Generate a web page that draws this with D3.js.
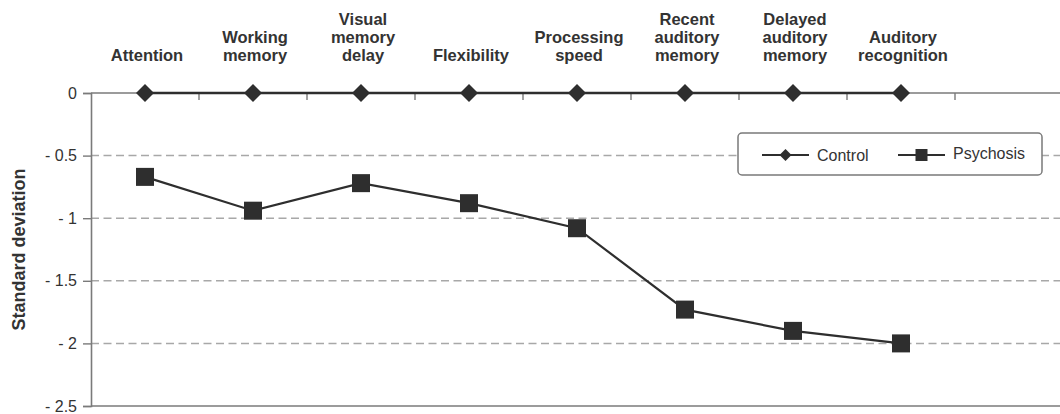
<!DOCTYPE html>
<html>
<head>
<meta charset="utf-8">
<script src="https://d3js.org/d3.v7.min.js"></script>
<style>
  body { margin: 0; background: #fff; }
  svg { display: block; font-family: "Liberation Sans", Arial, sans-serif; }
</style>
</head>
<body>
<svg id="chart" width="1060" height="414"></svg>
<script>
// data
var categories = ["Attention", "Working memory", "Visual memory delay", "Flexibility",
  "Processing speed", "Recent auditory memory", "Delayed auditory memory", "Auditory recognition"]
var categoryLines = [["Attention"], ["Working", "memory"], ["Visual", "memory", "delay"], ["Flexibility"],
  ["Processing", "speed"], ["Recent", "auditory", "memory"], ["Delayed", "auditory", "memory"], ["Auditory", "recognition"]]
var control = [0, 0, 0, 0, 0, 0, 0, 0]
var psychosis = [-0.67, -0.94, -0.72, -0.88, -1.08, -1.73, -1.90, -2.00]
var yTicks = [0, -0.5, -1, -1.5, -2, -2.5]
var seriesNames = ["Control", "Psychosis"]

var W = 1060, H = 414
var plotLeft = 91, plotTop = 93, plotBottom = 406
var ink = "#2e2e2e", axisGrey = "#7a7a7a", gridGrey = "#a8a8a8"

var svg = d3.select("#chart")

var x = d3.scaleBand().domain(categories).range([plotLeft, plotLeft + 8 * 108])
var y = d3.scaleLinear().domain([0, -2.5]).range([plotTop, plotBottom])

// dashed gridlines
svg.append("g")
  .selectAll("line")
  .data(yTicks.filter(function(d){ return d !== 0 && d !== -2.5 }))
  .enter()
  .append("line")
  .attr("x1", plotLeft).attr("x2", W)
  .attr("y1", function(d){ return y(d) }).attr("y2", function(d){ return y(d) })
  .attr("stroke", gridGrey).attr("stroke-width", 1.5)
  .attr("stroke-dasharray", "8,4.5")

// bottom frame line
svg.append("line")
  .attr("x1", plotLeft).attr("x2", W)
  .attr("y1", y(-2.5)).attr("y2", y(-2.5))
  .attr("stroke", axisGrey).attr("stroke-width", 1.6)

// y axis
var yAxis = svg.append("g")
  .attr("transform", "translate(" + plotLeft + ",0)")
  .call(d3.axisLeft(y)
    .tickValues(yTicks)
    .tickSize(8)
    .tickPadding(6)
    .tickFormat(function(d){ return d === 0 ? "0" : "- " + Math.abs(d) }))
yAxis.select(".domain").attr("stroke", axisGrey).attr("stroke-width", 1.6)
yAxis.selectAll(".tick line").attr("stroke", axisGrey).attr("stroke-width", 1.4)
yAxis.selectAll(".tick text")
  .attr("fill", "#333")
  .style("font-size", "16px")
  .style("font-family", "\"Liberation Sans\", Arial, sans-serif")

// x axis along zero
svg.append("line")
  .attr("x1", plotLeft).attr("x2", W)
  .attr("y1", y(0)).attr("y2", y(0))
  .attr("stroke", axisGrey).attr("stroke-width", 1.6)
svg.append("g")
  .selectAll("line")
  .data(categories)
  .enter()
  .append("line")
  .attr("x1", function(d){ return x(d) + x.bandwidth() })
  .attr("x2", function(d){ return x(d) + x.bandwidth() })
  .attr("y1", y(0)).attr("y2", y(0) + 7)
  .attr("stroke", axisGrey).attr("stroke-width", 1.4)

// category labels on top
var labels = svg.append("g")
  .selectAll("text")
  .data(categories)
  .enter()
  .append("text")
  .attr("text-anchor", "middle")
  .attr("fill", "#333")
  .style("font-size", "16.5px")
  .style("font-weight", "bold")
labels.each(function(d, i){
  var lines = categoryLines[i], n = lines.length
  d3.select(this).selectAll("tspan")
    .data(lines)
    .enter()
    .append("tspan")
    .attr("x", x(d) + x.bandwidth() / 2 + 2)
    .attr("y", function(t, j){ return 61 - (n - 1 - j) * 18 })
    .text(function(t){ return t })
})

// y title
svg.append("text")
  .attr("transform", "translate(25," + ((plotTop + plotBottom) / 2) + ") rotate(-90)")
  .attr("text-anchor", "middle")
  .attr("fill", "#333")
  .style("font-size", "18px")
  .style("font-weight", "bold")
  .text("Standard deviation")

var cx = function(d, i){ return x(categories[i]) + x.bandwidth() / 2 }
var line = d3.line().x(cx).y(function(d){ return y(d) })

// control series
svg.append("path")
  .datum(control)
  .attr("d", line)
  .attr("fill", "none").attr("stroke", ink).attr("stroke-width", 2.6)
svg.append("g")
  .selectAll("path")
  .data(control)
  .enter()
  .append("path")
  .attr("d", "M0,-9L9,0L0,9L-9,0Z")
  .attr("transform", function(d, i){ return "translate(" + cx(d, i) + "," + y(d) + ")" })
  .attr("fill", ink)

// psychosis series
svg.append("path")
  .datum(psychosis)
  .attr("d", line)
  .attr("fill", "none").attr("stroke", ink).attr("stroke-width", 2.2)
svg.append("g")
  .selectAll("rect")
  .data(psychosis)
  .enter()
  .append("rect")
  .attr("x", function(d, i){ return cx(d, i) - 9 })
  .attr("y", function(d){ return y(d) - 9 })
  .attr("width", 18).attr("height", 18)
  .attr("fill", ink)

// legend
var legend = svg.append("g")
legend.append("rect")
  .attr("x", 738).attr("y", 133).attr("width", 304).attr("height", 42)
  .attr("rx", 4)
  .attr("fill", "#fff").attr("stroke", axisGrey).attr("stroke-width", 1.5)
var items = legend.selectAll("g.item")
  .data(seriesNames)
  .enter()
  .append("g")
  .attr("class", "item")
  .attr("transform", function(d, i){ return "translate(" + (762 + i * 136) + ",155)" })
items.append("line")
  .attr("x1", 0).attr("x2", 47).attr("y1", 0).attr("y2", 0)
  .attr("stroke", ink).attr("stroke-width", 2.2)
items.each(function(d, i){
  var g = d3.select(this)
  if (i === 0) {
    g.append("path").attr("d", "M23.5,-6L29.5,0L23.5,6L17.5,0Z").attr("fill", ink)
  } else {
    g.append("rect").attr("x", 17.5).attr("y", -6).attr("width", 12).attr("height", 12).attr("fill", ink)
  }
})
items.append("text")
  .attr("x", 55)
  .attr("y", function(d, i){ return i === 0 ? 6 : 4 })
  .attr("fill", "#333")
  .style("font-size", "16px")
  .text(function(d){ return d })
</script>
</body>
</html>
